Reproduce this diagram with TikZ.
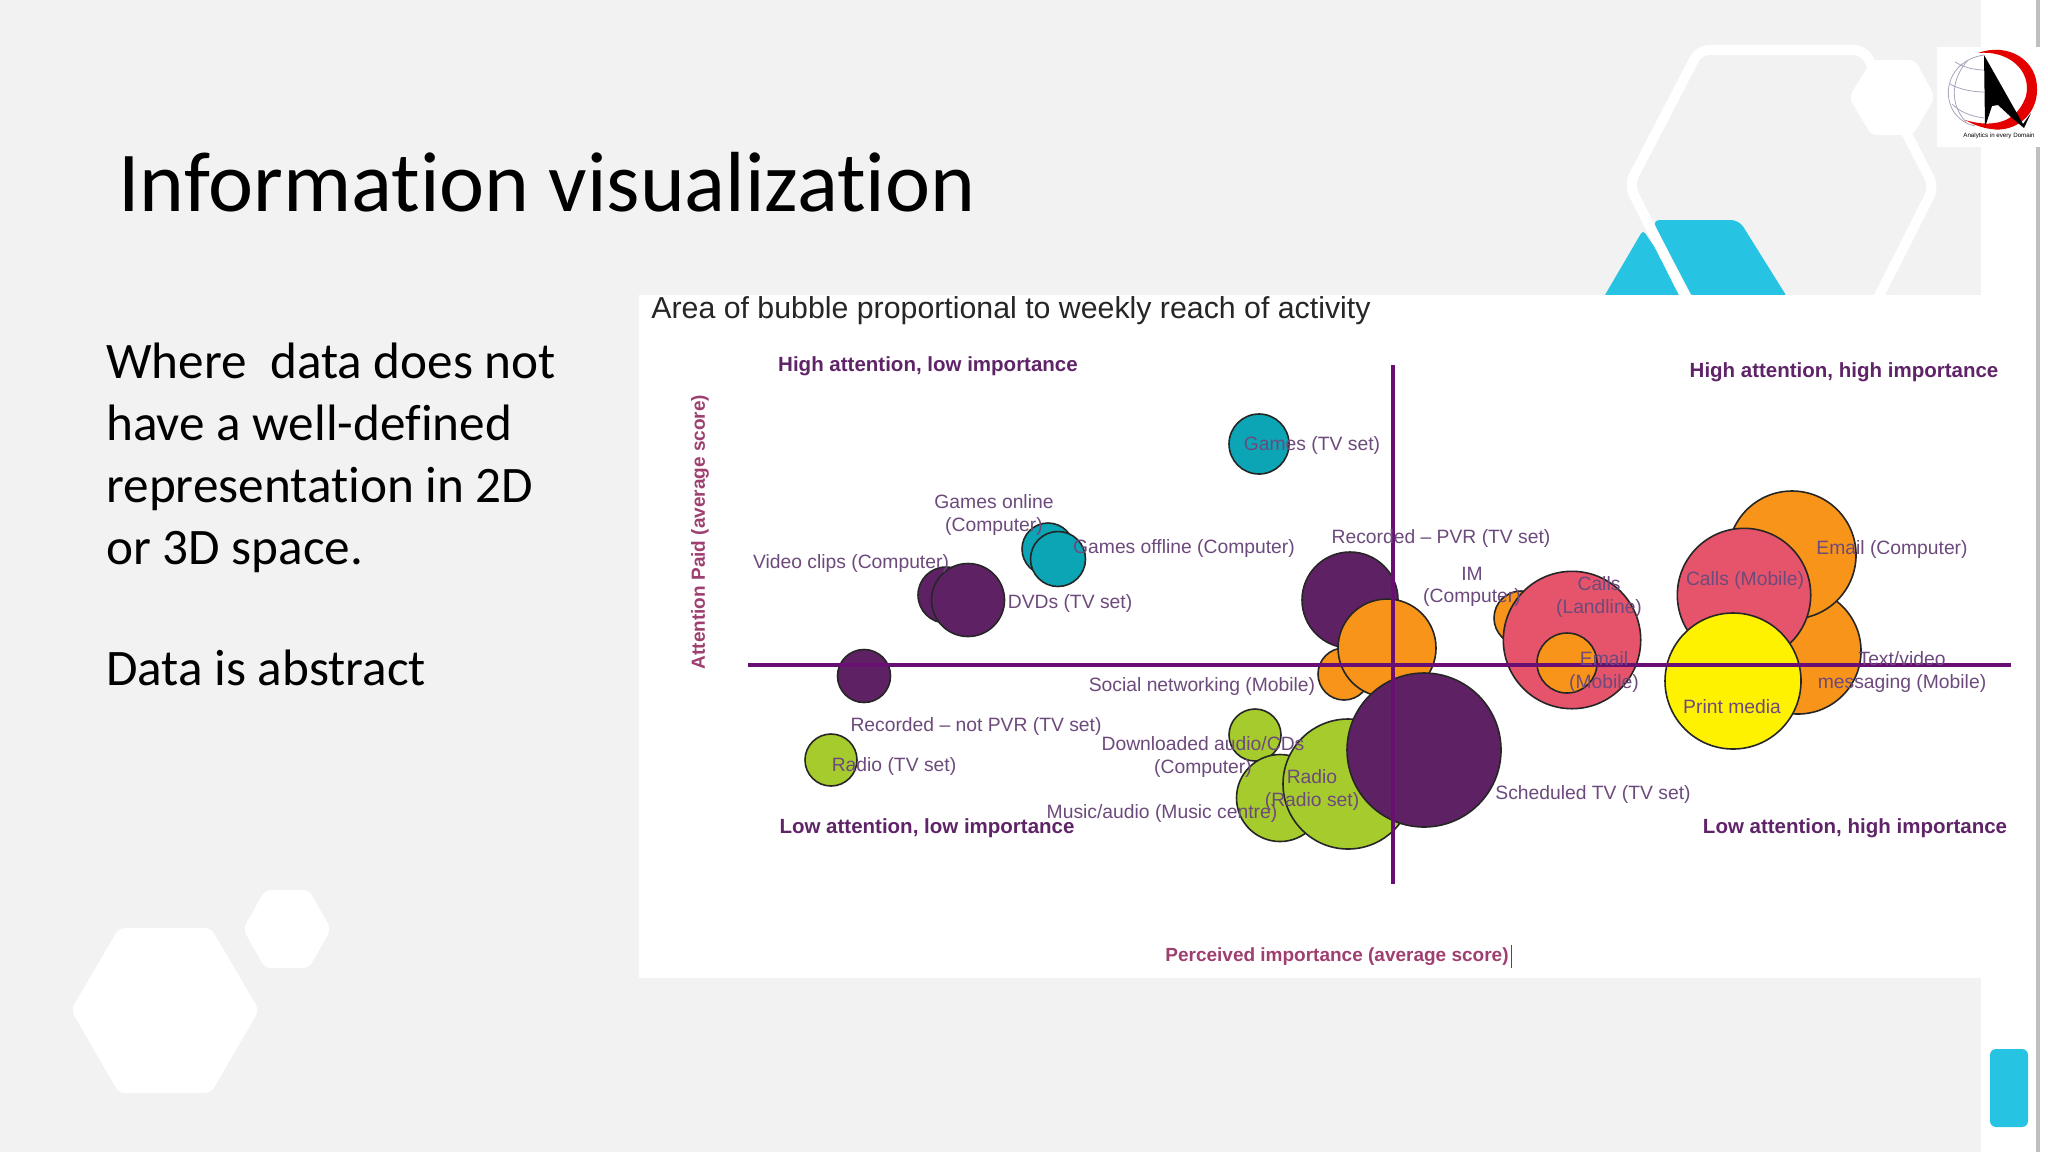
\documentclass[tikz,border=0pt]{standalone}
\usepackage{fontspec}
\setmainfont[Ligatures=NoCommon]{Carlito}
\newfontfamily\chartfont{Liberation Sans}
\usepackage{tikz}
\definecolor{slidegray}{HTML}{F2F2F2}
\definecolor{skycyan}{HTML}{27C3E3}
\definecolor{axispurple}{HTML}{690F73}
\definecolor{labelpurple}{HTML}{6D4A7C}
\definecolor{headpurple}{HTML}{5F2468}
\definecolor{axisrose}{HTML}{9E3F70}
\definecolor{bubteal}{HTML}{0BA5B5}
\definecolor{bubpurple}{HTML}{5E2163}
\definecolor{bubgreen}{HTML}{A5CB2D}
\definecolor{buborange}{HTML}{F79419}
\definecolor{bubred}{HTML}{E5546B}
\definecolor{bubyellow}{HTML}{FFF200}

\begin{document}
\begin{tikzpicture}[
    x=0.5pt, y=-0.5pt,
    bubble/.style={draw=black!85, line width=0.8pt, circle, inner sep=0pt},
    labelstyle/.style={text=labelpurple, font=\chartfont\fontsize{9.65}{11.3}\selectfont, align=center, inner sep=0pt},
    headstyle/.style={text=headpurple, font=\chartfont\bfseries\fontsize{10.25}{12}\selectfont, inner sep=0pt},
    axisstyle/.style={draw=axispurple, line width=1.6pt},
    bodystyle/.style={font=\fontsize{25.6}{31}\selectfont, align=left, anchor=north west, inner sep=0pt},
    whitehex/.style={fill=white, rounded corners=3pt},
    globeline/.style={draw=blue!25!black!35, line width=0.4pt}
  ]
    \useasboundingbox (0,0) rectangle (2048,1152);
    % slide
    \fill[white] (0,0) rectangle (2048,1152);
    \fill[slidegray] (0,0) rectangle (1981,1152);
    \fill[black!25] (2036,0) rectangle (2040,1152);
    \fill[whitehex] (71,1010) -- (119,928) -- (211,928) -- (259,1010) -- (211,1093) -- (119,1093) -- cycle;
    \fill[whitehex] (243,929) -- (265,890) -- (309,890) -- (331,929) -- (309,968) -- (265,968) -- cycle;
    \fill[skycyan, rounded corners=2pt] (1602,300) -- (1643,230) -- (1690,300) -- cycle;
    \fill[skycyan, rounded corners=4pt] (1652,220) -- (1739,220) -- (1789,300) -- (1694,300) -- cycle;
    \draw[white, line width=5pt, rounded corners=5pt] (1687,300) -- (1629,185) -- (1699,50) -- (1864,50) -- (1934,187) -- (1877,300);
    \fill[whitehex] (1849,97) -- (1872,60) -- (1915,60) -- (1935,97) -- (1913,135) -- (1871,135) -- cycle;
    \fill[skycyan, rounded corners=3pt] (1990,1049) rectangle (2028,1127);

    \node[anchor=base west, font=\fontsize{42.67}{46}\selectfont, inner sep=0pt] (TITLE)
      at (118,211) {Information visualization};
    \node[bodystyle] (BODYA)
      at (106,343) {Where\ \ data does not\\have a well-defined\\representation in 2D\\or 3D space.};
    \node[bodystyle, anchor=base west] (BODYB)
      at (106,685) {Data is abstract};

    % chart panel
    \fill[white] (639,295) rectangle (2036,978);
    \node[anchor=base west, font=\chartfont\fontsize{15.15}{18}\selectfont, text=black!85, inner sep=0pt] (CHARTTITLE)
      at (651,318) {Area of bubble proportional to weekly reach of activity};

    % bubbles, back to front
    \node[bubble, fill=bubteal, minimum size=30pt] (GAMESTV) at (1259,444) {};
    \node[bubble, fill=bubteal, minimum size=26pt] (GAMESON) at (1048,549) {};
    \node[bubble, fill=bubteal, minimum size=27.5pt] (GAMESOFF) at (1058,559) {};
    \node[bubble, fill=bubpurple, minimum size=28pt] (VIDEO) at (946,595) {};
    \node[bubble, fill=bubpurple, minimum size=36.5pt] (DVDS) at (968,600) {};
    \node[bubble, fill=bubpurple, minimum size=26.5pt] (NOTPVR) at (864,676) {};
    \node[bubble, fill=bubgreen, minimum size=26pt] (RADIOTV) at (831,760) {};
    \node[bubble, fill=bubpurple, minimum size=48pt] (PVR) at (1350,600) {};
    \node[bubble, fill=buborange, minimum size=26pt] (SOCIAL) at (1344,674) {};
    \node[bubble, fill=buborange, minimum size=49pt] (WEB) at (1387,648) {};
    \node[bubble, fill=bubgreen, minimum size=26pt] (DOWNLOAD) at (1255,735) {};
    \node[bubble, fill=bubgreen, minimum size=43.5pt] (MUSIC) at (1280,798) {};
    \node[bubble, fill=bubgreen, minimum size=65pt] (RADIOSET) at (1348,784) {};
    \node[bubble, fill=bubpurple, minimum size=77pt] (SCHEDULED) at (1424,750) {};
    \node[bubble, fill=buborange, minimum size=27pt] (IM) at (1521,618) {};
    \node[bubble, fill=bubred, minimum size=68.7pt] (LANDLINE) at (1572,640) {};
    \node[bubble, fill=buborange, minimum size=30pt] (EMAILMOB) at (1567,663) {};
    \node[bubble, fill=buborange, minimum size=63pt] (TEXTMOB) at (1798,651) {};
    \node[bubble, fill=buborange, minimum size=64pt] (EMAILCOMP) at (1792,555) {};
    \node[bubble, fill=bubred, minimum size=66.7pt] (CALLSMOB) at (1744,595) {};
    \node[bubble, fill=bubyellow, minimum size=68pt] (PRINT) at (1733,681) {};

    % axes
    \coordinate (XSTART) at (748,665);
    \coordinate (XEND) at (2011,665);
    \coordinate (YSTART) at (1393,365);
    \coordinate (YEND) at (1393,884);
    \draw[axisstyle] (XSTART) -- (XEND);
    \draw[axisstyle] (YSTART) -- (YEND);

    % quadrant headings
    \node[headstyle] (HEADHL) at (928,366) {High attention, low importance};
    \node[headstyle] (HEADHH) at (1844,372) {High attention, high importance};
    \node[headstyle] (HEADLL) at (927,828) {Low attention, low importance};
    \node[headstyle] (HEADLH) at (1855,828) {Low attention, high importance};
    \node[text=axisrose, font=\chartfont\bfseries\fontsize{9.5}{11}\selectfont, rotate=90, inner sep=0pt] (YLABEL)
      at (700,532) {Attention Paid (average score)};
    \node[text=axisrose, font=\chartfont\bfseries\fontsize{9.5}{11}\selectfont, inner sep=0pt] (XLABEL)
      at (1337,957) {Perceived importance (average score)};
    \coordinate (CURSORTOP) at (1511,945);
    \coordinate (CURSORBOT) at (1511,968);
    \draw[black!70, line width=0.5pt] (CURSORTOP) -- (CURSORBOT);

    % bubble labels
    \node[labelstyle] (LGAMESTV) at (1312,445) {Games (TV set)};
    \node[labelstyle] (LGAMESON) at (994,515) {Games online\\(Computer)};
    \node[labelstyle] (LGAMESOFF) at (1184,548) {Games offline (Computer)};
    \node[labelstyle] (LVIDEO) at (851,563) {Video clips (Computer)};
    \node[labelstyle] (LDVDS) at (1070,603) {DVDs (TV set)};
    \node[labelstyle] (LPVR) at (1441,538) {Recorded – PVR (TV set)};
    \node[labelstyle] (LIM) at (1472,587) {IM\\(Computer)};
    \node[labelstyle] (LLANDLINE) at (1599,597) {Calls\\(Landline)};
    \node[labelstyle] (LEMAILMOB) at (1604,672) {Email\\(Mobile)};
    \node[labelstyle] (LEMAILCOMP) at (1892,549) {Email (Computer)};
    \node[labelstyle] (LCALLSMOB) at (1745,580) {Calls (Mobile)};
    \node[labelstyle] (LTEXT) at (1902,672) {Text/video\\messaging (Mobile)};
    \node[labelstyle] (LPRINT) at (1732,707) {Print media};
    \node[labelstyle] (LSOCIAL) at (1202,686) {Social networking (Mobile)};
    \node[labelstyle] (LNOTPVR) at (976,726) {Recorded – not PVR (TV set)};
    \node[labelstyle] (LRADIOTV) at (894,766) {Radio (TV set)};
    \node[labelstyle] (LDOWNLOAD) at (1203,757) {Downloaded audio/CDs\\(Computer)};
    \node[labelstyle] (LRADIOSET) at (1312,790) {Radio\\(Radio set)};
    \node[labelstyle] (LMUSIC) at (1162,813) {Music/audio (Music centre)};
    \node[labelstyle] (LSCHEDULED) at (1593,794) {Scheduled TV (TV set)};

    % logo
    \fill[white] (1937,47) rectangle (2048,147);
    \draw[globeline] (1984,55) .. controls (1938,62) and (1938,118) .. (1975,126);
    \draw[globeline] (1968,60) .. controls (1950,80) and (1950,105) .. (1966,122);
    \draw[globeline] (1955,62) .. controls (1965,68) and (1975,70) .. (1985,70);
    \draw[globeline] (1950,84) .. controls (1960,90) and (1975,92) .. (1984,92);
    \draw[globeline] (1952,104) .. controls (1960,112) and (1970,116) .. (1984,118);
    \fill[red!90!black] (1978,53) .. controls (2008,42) and (2038,60) .. (2037,90) .. controls (2037,115) and (2015,133) .. (1991,129) .. controls (1982,128) and (1972,124) .. (1965,120) .. controls (1985,126) and (2015,128) .. (2026,96) .. controls (2032,70) and (2008,50) .. (1978,53) -- cycle;
    \fill[black] (1984,55) -- (2023,124) -- (2031,113) -- (2024,128) -- (2012,118) -- (1998,105) -- (1992,106) -- (1985,127) -- cycle;
    \node[font=\chartfont\fontsize{3.1}{3.5}\selectfont, inner sep=0pt] (LOGOTEXT) at (1999,136) {Analytics in every Domain};
\end{tikzpicture}
\end{document}
